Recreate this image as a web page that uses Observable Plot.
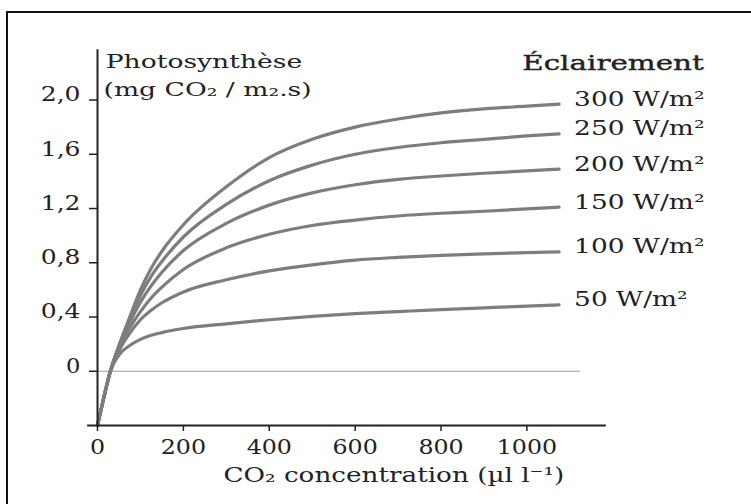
<!DOCTYPE html>
<html>
<head>
<meta charset="utf-8">
<script src="https://cdn.jsdelivr.net/npm/d3@7"></script>
<script src="https://cdn.jsdelivr.net/npm/@observablehq/plot@0.6"></script>
<style>
  html, body { margin: 0; padding: 0; background: #fff; }
  #wrap { position: relative; width: 751px; height: 504px; overflow: hidden; background: #fff; }
  #wrap svg { position: absolute; left: 0; top: 0; display: block; }
  #border { position: absolute; left: 6px; top: 11px; width: 900px; height: 700px;
            border-left: 2px solid #111; border-top: 2px solid #111; pointer-events: none; }
</style>
</head>
<body>
<div id="wrap"><div id="border"></div></div>
<script>
// CO2 concentration (µl/l) sample positions along the curves
const co2 = [0, 15, 30, 50, 75, 100, 125, 150, 200, 300, 400, 500, 600, 700, 800, 900, 1000, 1075];
// Light levels (W/m²)
const lights = [300, 250, 200, 150, 100, 50];
const lightLabels = ["300 W/m²", "250 W/m²", "200 W/m²", "150 W/m²", "100 W/m²", "50 W/m²"];
// Photosynthesis (mg CO2 / m2.s) for each light level
const p300 = [-0.40, -0.19, 0.00, 0.19, 0.40, 0.60, 0.76, 0.885, 1.08, 1.36, 1.575, 1.71, 1.80, 1.86, 1.905, 1.935, 1.955, 1.97];
const p250 = [-0.40, -0.19, 0.00, 0.185, 0.38, 0.56, 0.70, 0.81, 0.99, 1.23, 1.405, 1.52, 1.60, 1.65, 1.685, 1.71, 1.735, 1.75];
const p200 = [-0.40, -0.19, 0.00, 0.18, 0.36, 0.51, 0.63, 0.73, 0.89, 1.09, 1.225, 1.315, 1.375, 1.415, 1.44, 1.46, 1.478, 1.49];
const p150 = [-0.40, -0.19, 0.00, 0.17, 0.32, 0.44, 0.54, 0.62, 0.75, 0.91, 1.01, 1.075, 1.115, 1.145, 1.165, 1.18, 1.197, 1.21];
const p100 = [-0.40, -0.19, 0.00, 0.15, 0.28, 0.38, 0.45, 0.505, 0.585, 0.675, 0.74, 0.785, 0.82, 0.84, 0.855, 0.865, 0.875, 0.88];
const p50  = [-0.40, -0.19, 0.00, 0.12, 0.19, 0.235, 0.265, 0.285, 0.315, 0.35, 0.38, 0.405, 0.425, 0.44, 0.455, 0.468, 0.48, 0.49];
const series = [p300, p250, p200, p150, p100, p50];

// Axis ticks
const xTicks = [0, 200, 400, 600, 800, 1000];
const xTickLabels = ["0", "200", "400", "600", "800", "1000"];
const yTicks = [0, 0.4, 0.8, 1.2, 1.6, 2.0];
const yTickLabels = ["0", "0,4", "0,8", "1,2", "1,6", "2,0"];

// Texts
const yTitle1 = "Photosynthèse";
const yTitle2 = "(mg CO₂ / m₂.s)";
const legendTitle = "Éclairement";
const xTitle = "CO₂ concentration (µl l⁻¹)";

const rows = [];
series.forEach((vals, s) => vals.forEach((v, i) => rows.push({co2: co2[i], p: v, light: lights[s]})));
const ends = series.map((vals, s) => ({co2: co2[co2.length - 1], p: vals[vals.length - 1], label: lightLabels[s]}));

const ink = "#222";
const chart = Plot.plot({
  width: 751,
  height: 504,
  marginLeft: 97,
  marginRight: 143,
  marginTop: 48,
  marginBottom: 79,
  style: {fontFamily: "DejaVu Serif", background: "white", color: ink},
  x: {domain: [0, 1190], label: null},
  y: {domain: [-0.4, 2.38], label: null},
  marks: [
    Plot.ruleY([0], {x1: 0, x2: 1125, stroke: "#9a9a9a", strokeWidth: 1}),
    Plot.line(rows, {x: "co2", y: "p", z: "light", stroke: "#7d7d7d", strokeWidth: 3.2, curve: "monotone-x"}),
    Plot.ruleY([-0.4], {x1: -23, x2: 1185, stroke: ink, strokeWidth: 2}),
    Plot.ruleX([0], {y1: -0.4, y2: 2.37, stroke: ink, strokeWidth: 2}),
    Plot.axisX({ticks: xTicks, tickSize: 6, tickPadding: 8, fontSize: 21, label: null, strokeWidth: 1.5,
                tickFormat: (d) => xTickLabels[xTicks.indexOf(d)]}),
    Plot.axisY({ticks: yTicks, tickSize: 8, fill: "none", label: null, strokeWidth: 1.5}),
    Plot.axisY({ticks: yTicks, tickSize: 0, tickPadding: 17, dy: -5, fontSize: 20, label: null,
                tickFormat: (d) => yTickLabels[yTicks.indexOf(d)]}),
    Plot.text(ends, {x: "co2", y: "p", text: "label", dx: 15, dy: -5, textAnchor: "start", fontSize: 20, fill: ink}),
    Plot.text([yTitle1], {x: 19, y: 2.233, text: d => d, textAnchor: "start", lineAnchor: "bottom", fontSize: 19, fill: ink}),
    Plot.text([yTitle2], {x: 14, y: 2.027, text: d => d, textAnchor: "start", lineAnchor: "bottom", fontSize: 19, fill: ink}),
    Plot.text([legendTitle], {x: 989, y: 2.218, text: d => d, textAnchor: "start", lineAnchor: "bottom", fontSize: 21, fill: ink, stroke: ink, strokeWidth: 0.4}),
    Plot.text([xTitle], {x: 690, y: -0.815, text: d => d, textAnchor: "middle", lineAnchor: "bottom", fontSize: 21, fill: ink})
  ]
});

// widen glyphs horizontally to mimic the wide schoolbook typeface of the original
function widen(s) {
  if (s === legendTitle) return 1.4;
  if (s === yTitle1 || s === yTitle2) return 1.4;
  if (lightLabels.includes(s)) return 1.32;
  if (s === xTitle) return 1.25;
  if (yTickLabels.includes(s) && !xTickLabels.includes(s)) return 1.25;
  return 1.13;
}
chart.querySelectorAll("text").forEach(t => {
  const s = widen(t.textContent);
  const x = parseFloat(t.getAttribute("x")) || 0;
  const tr = t.getAttribute("transform") || "";
  t.setAttribute("transform", `${tr} translate(${x},0) scale(${s},1) translate(${-x},0)`);
});
document.getElementById("wrap").prepend(chart);
</script>
</body>
</html>
